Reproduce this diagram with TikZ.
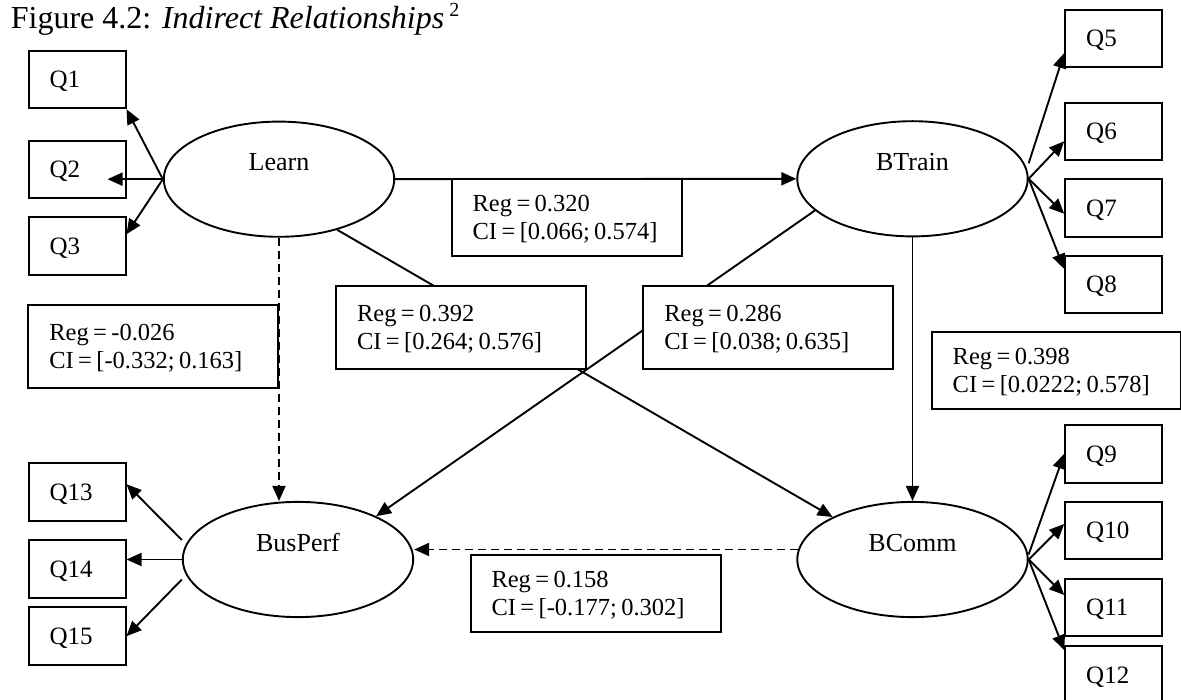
\documentclass[tikz,border=0pt]{standalone}
\usepackage{fontspec}
\setmainfont{Liberation Serif}
\usetikzlibrary{shapes.geometric,arrows.meta,calc}
\begin{document}
\begin{tikzpicture}[x=1pt,y=-1pt,
  qbox/.style={font=\fontsize{25}{29}\selectfont, draw, line width=2pt, fill=white,
    text width=55pt, inner xsep=21pt, inner ysep=0pt, minimum height=57.5pt,
    align=left, text height=16.5pt, text depth=0pt},
  latent/.style={font=\fontsize{26}{30}\selectfont, draw, ellipse, line width=1.9pt,
    fill=white, minimum width=230.4pt, minimum height=115.2pt, inner sep=0pt,
    text height=17pt, text depth=34pt},
  regbox/.style={font=\fontsize{24.5}{28.5}\selectfont, draw, line width=2pt,
    fill=white, inner xsep=21pt, inner ysep=0pt, align=left,
    text height=16pt, text depth=28.5pt,
    execute at begin node={\spaceskip=4.4pt\relax}},
  conn/.style={line width=1.9pt, -{Triangle[length=15pt,width=13pt]}},
  dconn/.style={conn, dash pattern=on 8.5pt off 4.5pt}]

\path[use as bounding box, fill=white] (0,0) rectangle (1181,700);

% title
\node[anchor=base west, inner sep=0pt, font=\fontsize{32}{36}\selectfont] (title) at (10.7,28.3)
  {Figure 4.2: \textit{Indirect Relationships}\hspace{5pt}\raisebox{11.6pt}{\fontsize{20}{20}\selectfont 2}};

% latent constructs
\node[latent] (learn)   at (279,179.2)   {Learn};
\node[latent] (btrain)  at (912.5,178.8) {BTrain};
\node[latent] (busperf) at (298,559.5)   {BusPerf};
\node[latent] (bcomm)   at (912.5,559.5) {BComm};

% indicator items
\node[qbox] (q1)  at (77,79.5)    {Q1};
\node[qbox] (q2)  at (77,169.5)   {Q2};
\node[qbox] (q3)  at (77,246.2)   {Q3};
\node[qbox] (q5)  at (1113.7,38.3)  {Q5};
\node[qbox] (q6)  at (1113.7,131.3) {Q6};
\node[qbox] (q7)  at (1113.7,207.8) {Q7};
\node[qbox] (q8)  at (1113.7,284.7) {Q8};
\node[qbox] (q9)  at (1113.7,453.8) {Q9};
\node[qbox] (q10) at (1113.7,530.5) {Q10};
\node[qbox] (q11) at (1113.7,607.5) {Q11};
\node[qbox] (q12) at (1113.7,674.8) {Q12};
\node[qbox] (q13) at (77,492.2)   {Q13};
\node[qbox] (q14) at (77,569.2)   {Q14};
\node[qbox] (q15) at (77,636.2)   {Q15};

% loadings
\draw[conn] (learn.west) -- (q1.south east);
\draw[conn] (learn.west) -- ($(q2.east |- learn.west)+(-19,0)$);
\draw[conn] (learn.west) -- ([yshift=12pt]q3.east);
\draw[conn] ([yshift=15.5pt]btrain.east) -- ([yshift=15pt]q5.south west);
\draw[conn] (btrain.east) -- ([yshift=-10pt]q6.west);
\draw[conn] (btrain.east) -- ([yshift=-6pt]q7.west);
\draw[conn] (btrain.east) -- ([yshift=-14pt]q8.north west);
\draw[conn] ([yshift=5pt]bcomm.east) -- (q9.west);
\draw[conn] (bcomm.east) -- ([yshift=6.5pt]q10.west);
\draw[conn] (bcomm.east) -- ([yshift=12.5pt]q11.west);
\draw[conn] (bcomm.east) -- ([yshift=-5pt]q12.north west);
\draw[conn] ([yshift=19.5pt]busperf.west) -- ([yshift=8pt]q13.east);
\draw[conn] (busperf.west) -- (busperf.west -| q14.east);
\draw[conn] ([yshift=-20pt]busperf.west) -- (q15.east);

% structural paths
\draw[conn] (learn.east) -- (btrain.west);
\draw[conn] (learn.-41) -- (bcomm.152);
\draw[conn] (btrain.198) -- (busperf.29);
\draw[conn] (btrain.south) -- (bcomm.north);
\draw[dconn] (learn.south) -- (learn.south |- busperf.north);
\draw[dconn] (bcomm.175) -- (busperf.east |- bcomm.175);

% path estimates
\node[regbox, text width=188.7pt, minimum height=77pt]   (r320) at (567,217.5)    {Reg = 0.320\\CI = [0.066; 0.574]};
\node[regbox, text width=207.7pt, minimum height=83.3pt] (r392) at (460.9,327.7)  {Reg = 0.392\\CI = [0.264; 0.576]};
\node[regbox, text width=207.9pt, minimum height=83.3pt] (r286) at (768.3,327.7)  {Reg = 0.286\\CI = [0.038; 0.635]};
\node[regbox, text width=208pt, minimum height=83.3pt]   (r026) at (153.3,346.7)  {Reg = -0.026\\CI = [-0.332; 0.163]};
\node[regbox, text width=207pt, minimum height=77.6pt]   (r398) at (1056.2,370.5) {Reg = 0.398\\CI = [0.0222; 0.578]};
\node[regbox, text width=208.2pt, minimum height=77.3pt] (r158) at (595.6,593.3)  {Reg = 0.158\\CI = [-0.177; 0.302]};
\end{tikzpicture}
\end{document}
